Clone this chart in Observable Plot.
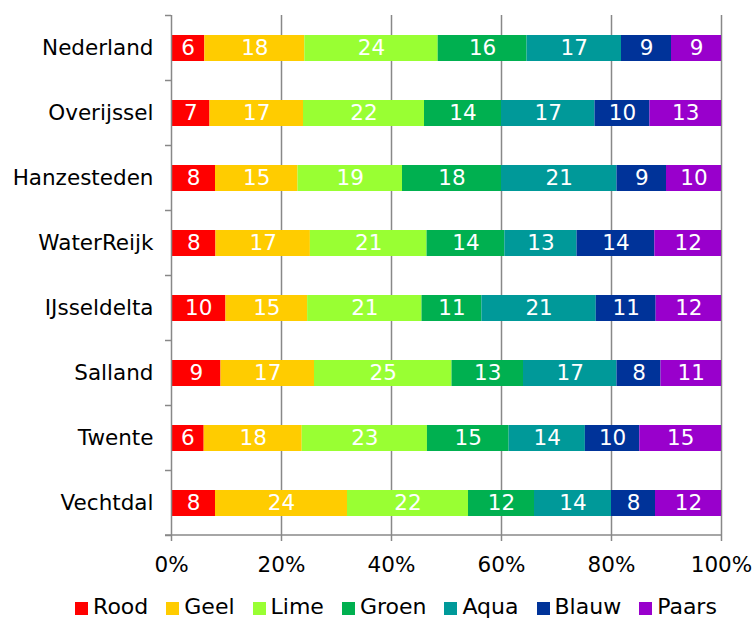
<!DOCTYPE html>
<html>
<head>
<meta charset="utf-8">
<script src="https://cdn.jsdelivr.net/npm/d3@7"></script>
<script src="https://cdn.jsdelivr.net/npm/@observablehq/plot@0.6"></script>
<style>
  html, body { margin: 0; padding: 0; background: #fff; }
  #wrap { position: relative; width: 754px; height: 621px; overflow: hidden; font-family: "DejaVu Sans", Verdana, sans-serif; }
  #legend { position: absolute; top: 595px; left: 0; width: 810px; display: flex; justify-content: center; font-size: 22px; line-height: 24px; color: #000; }
  .item { display: flex; align-items: center; margin-right: 18px; }
  .sw { width: 13px; height: 13px; margin-right: 5px; margin-top: 2px; }
</style>
</head>
<body>
<div id="wrap"></div>
<script>
const regions = ["Nederland", "Overijssel", "Hanzesteden", "WaterReijk", "IJsseldelta", "Salland", "Twente", "Vechtdal"];
const seriesNames = ["Rood", "Geel", "Lime", "Groen", "Aqua", "Blauw", "Paars"];
const seriesColors = ["#FF0000", "#FFCC00", "#99FF33", "#00B050", "#009999", "#003399", "#9900CC"];
const rood  = [6, 7, 8, 8, 10, 9, 6, 8];
const geel  = [18, 17, 15, 17, 15, 17, 18, 24];
const lime  = [24, 22, 19, 21, 21, 25, 23, 22];
const groen = [16, 14, 18, 14, 11, 13, 15, 12];
const aqua  = [17, 17, 21, 13, 21, 17, 14, 14];
const blauw = [9, 10, 9, 14, 11, 8, 10, 8];
const paars = [9, 13, 10, 12, 12, 11, 15, 12];
const xTicks = [0, 0.2, 0.4, 0.6, 0.8, 1];

const seriesValues = [rood, geel, lime, groen, aqua, blauw, paars];
const data = [];
regions.forEach((r, i) => {
  seriesNames.forEach((s, j) => data.push({region: r, series: s, value: seriesValues[j][i]}));
});

const W = 754, H = 590;
const mL = 171, mR = 33, mT = 15, mB = H - 535;
const font = "DejaVu Sans, Verdana, sans-serif";

const chart = Plot.plot({
  width: W, height: H,
  marginLeft: mL, marginRight: mR, marginTop: mT, marginBottom: mB,
  style: {fontFamily: font, fontSize: "21.5px", color: "#000", background: "#fff"},
  x: {domain: [0, 1], ticks: xTicks, tickFormat: d3.format(".0%"), tickSize: 6, tickPadding: 15, label: null},
  y: {domain: regions, paddingInner: 0.6, paddingOuter: 0.3, tickSize: 0, tickPadding: 18, label: null},
  color: {domain: seriesNames, range: seriesColors},
  marks: [
    Plot.ruleX(xTicks.slice(1), {stroke: "#888", strokeWidth: 1.5}),
    Plot.barX(data, Plot.stackX({x: "value", y: "region", fill: "series", z: "series", order: seriesNames, offset: "normalize"})),
    Plot.text(data, Plot.stackX({x: "value", y: "region", z: "series", order: seriesNames, offset: "normalize", text: d => String(d.value), fill: "#fff", fontSize: 21.5})),
    Plot.ruleX([0], {stroke: "#888", strokeWidth: 1.5})
  ]
});

document.getElementById("wrap").appendChild(chart);

// axis lines and category boundary ticks, positioned through the chart's own scales
const svg = d3.select(chart);
const xs = chart.scale("x"), ys = chart.scale("y");
const x0 = xs.apply(0), x1 = xs.apply(1);
const yBottom = H - mB;
svg.selectAll("g[aria-label='x-axis tick'] path, g[aria-label='x-axis'] path").attr("stroke", "#888").attr("stroke-width", 1.5).attr("stroke-opacity", 1);
const g = svg.append("g").attr("stroke", "#888").attr("stroke-width", 1.5);
g.append("line").attr("x1", x0 - 6).attr("x2", x1).attr("y1", yBottom).attr("y2", yBottom);
const step = ys.step;
const bounds = regions.map(r => ys.apply(r) - (step - ys.bandwidth) / 2);
bounds.push(ys.apply(regions[regions.length - 1]) + ys.bandwidth + (step - ys.bandwidth) / 2);
bounds.forEach(b => g.append("line").attr("x1", x0 - 6).attr("x2", x0).attr("y1", b).attr("y2", b));

// legend
const legend = document.createElement("div");
legend.id = "legend";
seriesNames.forEach((s, i) => {
  const it = document.createElement("div"); it.className = "item";
  const sw = document.createElement("div"); sw.className = "sw"; sw.style.background = seriesColors[i];
  const t = document.createElement("span"); t.textContent = s;
  it.appendChild(sw); it.appendChild(t); legend.appendChild(it);
});
document.getElementById("wrap").appendChild(legend);
</script>
</body>
</html>
